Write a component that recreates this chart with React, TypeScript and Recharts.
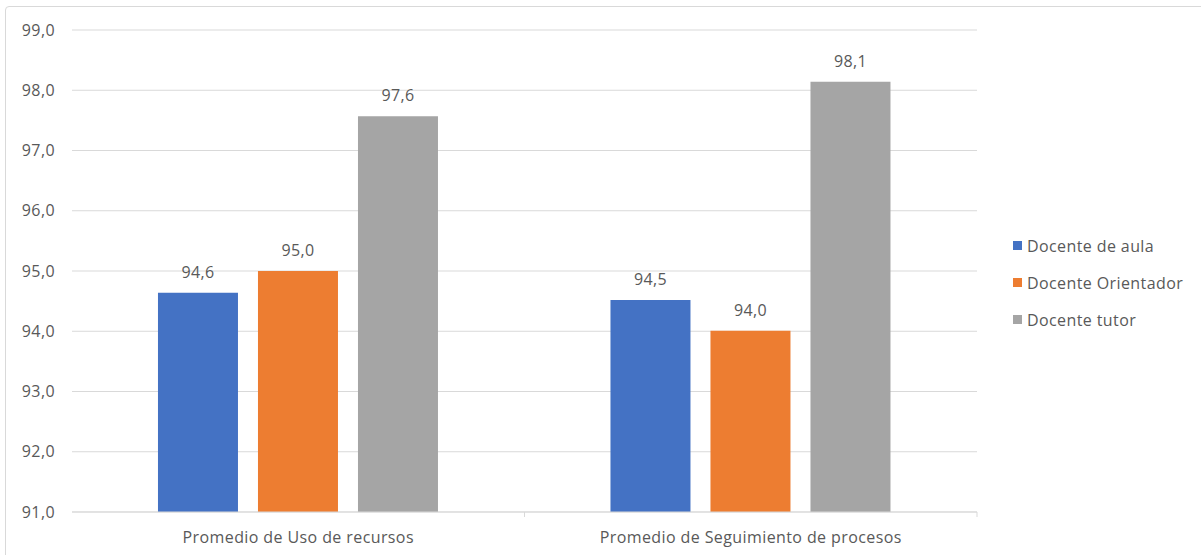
import { BarChart, Bar, XAxis, YAxis, CartesianGrid, LabelList } from "recharts";

const categories = ["Promedio de Uso de recursos", "Promedio de Seguimiento de procesos"];
const docenteAula = [94.64, 94.52];
const docenteOrientador = [95.0, 94.01];
const docenteTutor = [97.57, 98.14];
const yTicks = [91, 92, 93, 94, 95, 96, 97, 98, 99];

const series = [
  { key: "aula", name: "Docente de aula", color: "#4472c4" },
  { key: "orientador", name: "Docente Orientador", color: "#ed7d31" },
  { key: "tutor", name: "Docente tutor", color: "#a5a5a5" },
];

const data = categories.map((cat, i) => ({
  cat,
  aula: docenteAula[i],
  orientador: docenteOrientador[i],
  tutor: docenteTutor[i],
}));

const W = 1201;
const H = 555;
const margin = { top: 30, right: 224, bottom: 0, left: 0 };
const Y_W = 72;
const X_H = 43;
const BAND = (W - margin.left - margin.right - Y_W) / categories.length;
const FONT = "'Open Sans', sans-serif";
const TEXT = "#595959";

const fmt = (v: number) => v.toFixed(1).replace(".", ",");

const XTick = (props: any) => {
  const { x, y, payload } = props;
  return (
    <g>
      <line x1={x + BAND / 2} y1={y - 8} x2={x + BAND / 2} y2={y - 3} stroke="#d9d9d9" />
      <text x={x} y={y + 23} textAnchor="middle" fill={TEXT} fontSize={16} letterSpacing={0.4} fontFamily={FONT}>
        {payload.value}
      </text>
    </g>
  );
};

const LegendBox = () => (
  <div
    style={{
      position: "absolute",
      left: 1013,
      top: 227,
      fontFamily: FONT,
      fontSize: 16,
      letterSpacing: 0.4,
      color: TEXT,
    }}
  >
    {series.map((s) => (
      <div key={s.key} style={{ display: "flex", alignItems: "center", height: 37 }}>
        <span style={{ width: 9, height: 9, background: s.color, marginRight: 5, display: "inline-block" }} />
        {s.name}
      </div>
    ))}
  </div>
);

export default function App() {
  return (
    <div style={{ position: "fixed", left: 0, top: 0, width: W, height: H, background: "#fff", overflow: "hidden" }}>
      <div
        style={{
          position: "absolute",
          left: 5,
          top: 6,
          width: W,
          height: H,
          border: "1px solid #d9d9d9",
          borderRadius: 4,
        }}
      />
      <BarChart width={W} height={H} data={data} margin={margin} barCategoryGap="19%" barGap={20}>
        <CartesianGrid vertical={false} stroke="#d9d9d9" />
        <XAxis
          dataKey="cat"
          height={X_H}
          axisLine={{ stroke: "#d9d9d9" }}
          tickLine={false}
          tick={<XTick />}
          interval={0}
        />
        <YAxis
          width={Y_W}
          domain={[91, 99]}
          ticks={yTicks}
          axisLine={false}
          tickLine={false}
          tickSize={0}
          tickMargin={17}
          tickFormatter={fmt}
          tick={{ fill: TEXT, fontSize: 16, fontFamily: FONT, letterSpacing: 0.4 }}
        />
        {series.map((s) => (
          <Bar key={s.key} dataKey={s.key} name={s.name} fill={s.color} isAnimationActive={false}>
            <LabelList
              dataKey={s.key}
              position="top"
              offset={15}
              formatter={(v: any) => fmt(Number(v))}
              style={{ fill: TEXT, fontSize: 16, fontFamily: FONT, letterSpacing: 0.4 }}
            />
          </Bar>
        ))}
      </BarChart>
      <LegendBox />
    </div>
  );
}
